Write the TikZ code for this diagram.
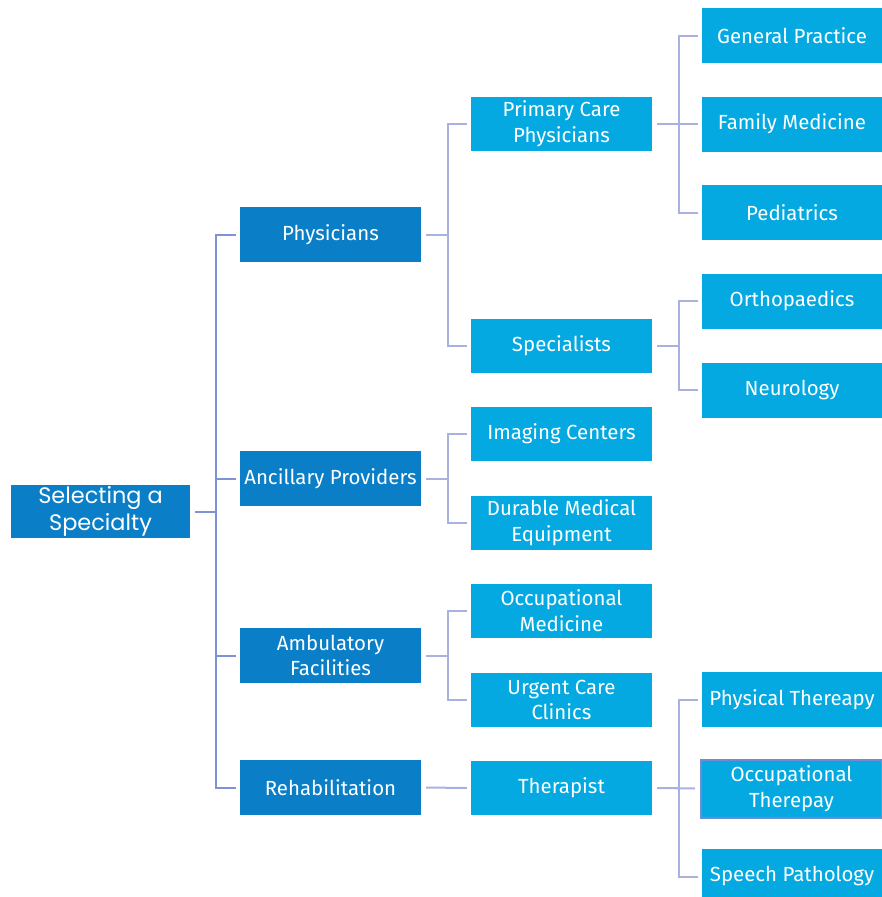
\documentclass[tikz,border=0pt]{standalone}
\usepackage{fontspec}
\setmainfont{Fira Sans}
\newfontfamily\rootfont{Poppins}
\definecolor{dark}{HTML}{0A7FC8}
\definecolor{light}{HTML}{03A9E0}
\definecolor{lineA}{HTML}{7F92D8}
\definecolor{lineB}{HTML}{A8B1E0}
\definecolor{bord}{HTML}{6F8BD2}
\begin{document}
\begin{tikzpicture}[x=1bp,y=-1bp,
  box/.style={inner sep=0pt, align=center, text=white, font=\fontsize{20.5}{26}\selectfont},
  rootbox/.style={box, fill=dark, minimum width=179bp, minimum height=53bp, font=\rootfont\fontsize{22.5}{27}\selectfont},
  lone/.style={box, fill=dark, minimum width=181bp, minimum height=55bp},
  ltwo/.style={box, fill=light, minimum width=181bp, minimum height=54bp},
  lthree/.style={box, fill=light, minimum width=180bp, minimum height=55bp},
  connA/.style={draw=lineA, line width=2bp},
  connB/.style={draw=lineB, line width=2bp}]
\useasboundingbox (0,0) rectangle (882,897);
\fill[white] (0,0) rectangle (882,897);
% root
\node[rootbox] (root) at (100.5,511.5) {Selecting a\\Specialty};
% level 1
\node[lone] (phys) at (330.5,234.5) {Physicians};
\node[lone] (anc) at (330.5,478.5) {Ancillary Providers};
\node[lone] (amb) at (330.5,655.5) {Ambulatory\\Facilities};
\node[lone] (reh) at (330.5,787.5) {Rehabilitation};
% level 2
\node[ltwo] (pcp) at (561.5,124) {Primary Care\\Physicians};
\node[ltwo] (spec) at (561.5,346) {Specialists};
\node[ltwo] (img) at (561.5,434) {Imaging Centers};
\node[ltwo] (dme) at (561.5,522.5) {Durable Medical\\Equipment};
\node[ltwo] (occm) at (561.5,611) {Occupational\\Medicine};
\node[ltwo] (urg) at (561.5,700) {Urgent Care\\Clinics};
\node[ltwo] (ther) at (561.5,788) {Therapist};
% level 3
\node[lthree] (gp) at (792,35.5) {General Practice};
\node[lthree] (fm) at (792,124) {Family Medicine};
\node[lthree] (ped) at (792,212.5) {Pediatrics};
\node[lthree] (orth) at (792,301) {Orthopaedics};
\node[lthree] (neu) at (792,390) {Neurology};
\node[lthree] (pt) at (792,699.5) {Physical Thereapy};
\node[lthree, draw=bord, line width=2bp, minimum height=58bp, minimum width=181bp] (ot) at (791.5,788.5) {Occupational\\Therepay};
\node[lthree] (sp) at (792,876.5) {Speech Pathology};
% connectors root -> level 1
\coordinate (busA) at ([xshift=26bp]root.east);
\draw[connA] ([xshift=5bp]root.east) -- (busA);
\foreach \n in {phys,anc,amb,reh}
  \draw[connA] (busA) |- ([xshift=-4bp]\n.west);
% level 1 -> level 2
\foreach \p/\c in {phys/pcp,phys/spec,anc/img,anc/dme,amb/occm,amb/urg}
  \draw[connB] ([xshift=5bp]\p.east) -- ++(22,0) |- ([xshift=-4bp]\c.west);
\draw[connB] ([xshift=5bp]reh.east) -- ([xshift=-4bp]ther.west);
% level 2 -> level 3
\foreach \p/\c in {pcp/gp,pcp/fm,pcp/ped,spec/orth,spec/neu,ther/pt,ther/sp}
  \draw[connB] ([xshift=5bp]\p.east) -- ++(22,0) |- ([xshift=-4bp]\c.west);
\draw[connB] ([xshift=5bp]ther.east) -- ([xshift=-5bp]ot.west);
\end{tikzpicture}
\end{document}
